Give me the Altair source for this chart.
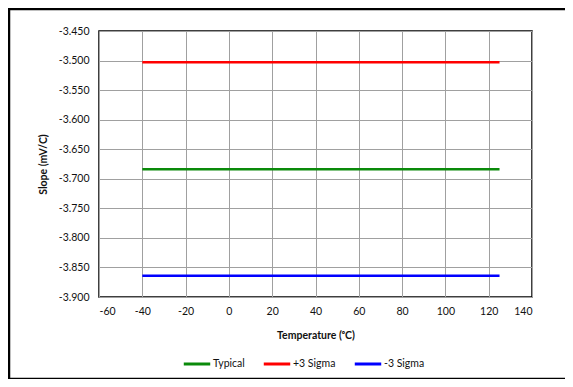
import altair as alt
import pandas as pd

temps = [-40, 25, 125]
typical = [-3.684, -3.684, -3.684]
plus3 = [-3.503, -3.503, -3.503]
minus3 = [-3.864, -3.864, -3.864]
series_names = ["Typical", "+3 Sigma", "-3 Sigma"]
series_colors = ["#0a8a0a", "#ff0000", "#0000ff"]
x_ticks = [-60, -40, -20, 0, 20, 40, 60, 80, 100, 120, 140]
y_ticks = [-3.90, -3.85, -3.80, -3.75, -3.70, -3.65, -3.60, -3.55, -3.50, -3.45]

rows = []
for name, vals in zip(series_names, [typical, plus3, minus3]):
    for t, v in zip(temps, vals):
        rows.append({"Temperature": t, "Slope": v, "Series": name})
df = pd.DataFrame(rows)

FONT = "Lato"
W, H = 433, 266
TXT = "#111111"

lines = alt.Chart(df).mark_line(strokeWidth=2.5).encode(
    x=alt.X("Temperature:Q",
            scale=alt.Scale(domain=[-60, 140], nice=False, zero=False),
            axis=alt.Axis(values=x_ticks, title="Temperature (ᵒC)", grid=True,
                          gridColor="#a0a0a0", gridWidth=1, domain=False, ticks=False,
                          labelPadding=9, labelFontSize=10.5, labelFont=FONT,
                          labelColor=TXT,
                          labelExpr="replace(format(datum.value, 'd'), '\u2212', '-')",
                          titleFont=FONT, titleFontSize=10.5,
                          titleFontWeight="bold", titleColor=TXT, titlePadding=14)),
    y=alt.Y("Slope:Q",
            scale=alt.Scale(domain=[-3.9, -3.45], nice=False, zero=False),
            axis=alt.Axis(values=y_ticks, title="Slope (mV/C)", grid=True,
                          gridColor="#a0a0a0", gridWidth=1, domain=False, ticks=False,
                          labelPadding=10, labelFontSize=10.5, labelFont=FONT,
                          labelColor=TXT,
                          labelExpr="replace(format(datum.value, '.3f'), '\u2212', '-')",
                          titleFont=FONT, titleFontSize=10.5, titleFontWeight="bold",
                          titleColor=TXT, titlePadding=10)),
    color=alt.Color("Series:N",
                    scale=alt.Scale(domain=series_names, range=series_colors),
                    sort=series_names,
                    legend=alt.Legend(title=None, orient="none", direction="horizontal",
                                      legendX=83, legendY=318, symbolType="stroke",
                                      symbolSize=700, symbolStrokeWidth=3,
                                      labelFont=FONT, labelFontSize=10.5, labelColor=TXT,
                                      labelOffset=1, columnPadding=12)),
)

border_df = pd.DataFrame({"k": [1]})
left_border = alt.Chart(border_df).mark_rule(color="black", strokeWidth=2.5).encode(
    x=alt.value(-90), y=alt.value(-22), y2=alt.value(348))
top_border = alt.Chart(border_df).mark_rule(color="black", strokeWidth=2.5).encode(
    x=alt.value(-91), x2=alt.value(470), y=alt.value(-22))
bottom_border = alt.Chart(border_df).mark_rule(color="black", strokeWidth=2.5).encode(
    x=alt.value(-91), x2=alt.value(470), y=alt.value(348))

chart = alt.layer(lines, left_border, top_border, bottom_border).properties(
    width=W, height=H,
    autosize=alt.AutoSizeParams(type="none"),
    padding={"left": 91, "top": 23, "right": 33, "bottom": 82},
    background="white",
).configure_view(stroke="black", strokeWidth=1.5)

chart.save("out.html", embed_options={"renderer": "svg", "actions": False})
